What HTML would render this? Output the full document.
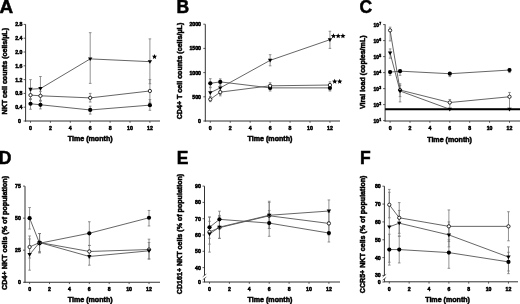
<!DOCTYPE html>
<html><head><meta charset="utf-8"><style>
html,body{margin:0;padding:0;background:#fff;}
svg{display:block;filter:blur(0.3px);}
text{font-family:"Liberation Sans", sans-serif;font-weight:bold;fill:#000;stroke:#000;stroke-width:0.5px;}
</style></head><body>
<svg width="520" height="304" viewBox="0 0 520 304">
<rect width="520" height="304" fill="#fff"/>
<line x1="25.6" y1="24.3" x2="25.6" y2="121.5" stroke="#333" stroke-width="1"/>
<line x1="25.1" y1="121" x2="160" y2="121" stroke="#333" stroke-width="1"/>
<line x1="23.6" y1="121" x2="25.6" y2="121" stroke="#333" stroke-width="0.8"/>
<text x="21" y="123" font-size="5.2" text-anchor="end" >0</text>
<line x1="23.6" y1="107.2" x2="25.6" y2="107.2" stroke="#333" stroke-width="0.8"/>
<text x="22.4" y="109.2" font-size="5.2" text-anchor="end" >0.4</text>
<line x1="23.6" y1="93.4" x2="25.6" y2="93.4" stroke="#333" stroke-width="0.8"/>
<text x="22.4" y="95.4" font-size="5.2" text-anchor="end" >0.8</text>
<line x1="23.6" y1="79.6" x2="25.6" y2="79.6" stroke="#333" stroke-width="0.8"/>
<text x="22.4" y="81.6" font-size="5.2" text-anchor="end" >1.2</text>
<line x1="23.6" y1="65.8" x2="25.6" y2="65.8" stroke="#333" stroke-width="0.8"/>
<text x="22.4" y="67.8" font-size="5.2" text-anchor="end" >1.6</text>
<line x1="23.6" y1="52" x2="25.6" y2="52" stroke="#333" stroke-width="0.8"/>
<text x="22.4" y="54" font-size="5.2" text-anchor="end" >2.0</text>
<line x1="23.6" y1="38.2" x2="25.6" y2="38.2" stroke="#333" stroke-width="0.8"/>
<text x="22.4" y="40.2" font-size="5.2" text-anchor="end" >2.4</text>
<line x1="23.6" y1="24.4" x2="25.6" y2="24.4" stroke="#333" stroke-width="0.8"/>
<text x="22.4" y="26.4" font-size="5.2" text-anchor="end" >2.8</text>
<line x1="30.5" y1="121" x2="30.5" y2="122.8" stroke="#333" stroke-width="0.8"/>
<text x="30.5" y="130.2" font-size="5.2" text-anchor="middle" >0</text>
<line x1="50.4" y1="121" x2="50.4" y2="122.8" stroke="#333" stroke-width="0.8"/>
<text x="50.4" y="130.2" font-size="5.2" text-anchor="middle" >2</text>
<line x1="70.3" y1="121" x2="70.3" y2="122.8" stroke="#333" stroke-width="0.8"/>
<text x="70.3" y="130.2" font-size="5.2" text-anchor="middle" >4</text>
<line x1="90.2" y1="121" x2="90.2" y2="122.8" stroke="#333" stroke-width="0.8"/>
<text x="90.2" y="130.2" font-size="5.2" text-anchor="middle" >6</text>
<line x1="110.1" y1="121" x2="110.1" y2="122.8" stroke="#333" stroke-width="0.8"/>
<text x="110.1" y="130.2" font-size="5.2" text-anchor="middle" >8</text>
<line x1="130" y1="121" x2="130" y2="122.8" stroke="#333" stroke-width="0.8"/>
<text x="130" y="130.2" font-size="5.2" text-anchor="middle" >10</text>
<line x1="149.9" y1="121" x2="149.9" y2="122.8" stroke="#333" stroke-width="0.8"/>
<text x="149.9" y="130.2" font-size="5.2" text-anchor="middle" >12</text>
<text x="90.2" y="141.1" font-size="7.1" text-anchor="middle" >Time (month)</text>
<text transform="translate(7.2,71.2) rotate(-90)" x="0" y="0" font-size="7.1" text-anchor="middle">NKT cell counts (cells/µL)</text>
<text transform="translate(-0.6,12.6) scale(1.08,1)" x="0" y="0" font-size="17.5" text-anchor="start">A</text>
<line x1="30.5" y1="98.92" x2="30.5" y2="79.6" stroke="#777" stroke-width="0.8"/>
<line x1="29.2" y1="98.92" x2="31.8" y2="98.92" stroke="#777" stroke-width="0.8"/>
<line x1="29.2" y1="79.6" x2="31.8" y2="79.6" stroke="#777" stroke-width="0.8"/>
<line x1="40.45" y1="100.3" x2="40.45" y2="76.5" stroke="#777" stroke-width="0.8"/>
<line x1="39.15" y1="100.3" x2="41.75" y2="100.3" stroke="#777" stroke-width="0.8"/>
<line x1="39.15" y1="76.5" x2="41.75" y2="76.5" stroke="#777" stroke-width="0.8"/>
<line x1="90.2" y1="83.39" x2="90.2" y2="32.68" stroke="#777" stroke-width="0.8"/>
<line x1="88.9" y1="83.39" x2="91.5" y2="83.39" stroke="#777" stroke-width="0.8"/>
<line x1="88.9" y1="32.68" x2="91.5" y2="32.68" stroke="#777" stroke-width="0.8"/>
<line x1="149.9" y1="83.74" x2="149.9" y2="38.89" stroke="#777" stroke-width="0.8"/>
<line x1="148.6" y1="83.74" x2="151.2" y2="83.74" stroke="#777" stroke-width="0.8"/>
<line x1="148.6" y1="38.89" x2="151.2" y2="38.89" stroke="#777" stroke-width="0.8"/>
<line x1="30.5" y1="99.61" x2="30.5" y2="90.64" stroke="#777" stroke-width="0.8"/>
<line x1="29.2" y1="99.61" x2="31.8" y2="99.61" stroke="#777" stroke-width="0.8"/>
<line x1="29.2" y1="90.64" x2="31.8" y2="90.64" stroke="#777" stroke-width="0.8"/>
<line x1="40.45" y1="100.99" x2="40.45" y2="91.33" stroke="#777" stroke-width="0.8"/>
<line x1="39.15" y1="100.99" x2="41.75" y2="100.99" stroke="#777" stroke-width="0.8"/>
<line x1="39.15" y1="91.33" x2="41.75" y2="91.33" stroke="#777" stroke-width="0.8"/>
<line x1="90.2" y1="102.03" x2="90.2" y2="93.4" stroke="#777" stroke-width="0.8"/>
<line x1="88.9" y1="102.03" x2="91.5" y2="102.03" stroke="#777" stroke-width="0.8"/>
<line x1="88.9" y1="93.4" x2="91.5" y2="93.4" stroke="#777" stroke-width="0.8"/>
<line x1="149.9" y1="102.37" x2="149.9" y2="79.6" stroke="#777" stroke-width="0.8"/>
<line x1="148.6" y1="102.37" x2="151.2" y2="102.37" stroke="#777" stroke-width="0.8"/>
<line x1="148.6" y1="79.6" x2="151.2" y2="79.6" stroke="#777" stroke-width="0.8"/>
<line x1="30.5" y1="109.27" x2="30.5" y2="98.92" stroke="#777" stroke-width="0.8"/>
<line x1="29.2" y1="109.27" x2="31.8" y2="109.27" stroke="#777" stroke-width="0.8"/>
<line x1="29.2" y1="98.92" x2="31.8" y2="98.92" stroke="#777" stroke-width="0.8"/>
<line x1="40.45" y1="108.92" x2="40.45" y2="100.99" stroke="#777" stroke-width="0.8"/>
<line x1="39.15" y1="108.92" x2="41.75" y2="108.92" stroke="#777" stroke-width="0.8"/>
<line x1="39.15" y1="100.99" x2="41.75" y2="100.99" stroke="#777" stroke-width="0.8"/>
<line x1="90.2" y1="114.1" x2="90.2" y2="106.17" stroke="#777" stroke-width="0.8"/>
<line x1="88.9" y1="114.1" x2="91.5" y2="114.1" stroke="#777" stroke-width="0.8"/>
<line x1="88.9" y1="106.17" x2="91.5" y2="106.17" stroke="#777" stroke-width="0.8"/>
<line x1="149.9" y1="110.31" x2="149.9" y2="99.61" stroke="#777" stroke-width="0.8"/>
<line x1="148.6" y1="110.31" x2="151.2" y2="110.31" stroke="#777" stroke-width="0.8"/>
<line x1="148.6" y1="99.61" x2="151.2" y2="99.61" stroke="#777" stroke-width="0.8"/>
<path d="M30.5,89.26 L40.45,88.57 L90.2,58.9 L149.9,61.66" fill="none" stroke="#555" stroke-width="0.9"/>
<path d="M30.5,95.12 L40.45,95.81 L90.2,97.88 L149.9,90.98" fill="none" stroke="#555" stroke-width="0.9"/>
<path d="M30.5,103.75 L40.45,104.78 L90.2,109.96 L149.9,105.13" fill="none" stroke="#555" stroke-width="0.9"/>
<path d="M28.3,87.76H32.7L30.5,91.46Z" fill="#000"/>
<path d="M38.25,87.07H42.65L40.45,90.77Z" fill="#000"/>
<path d="M88,57.4H92.4L90.2,61.1Z" fill="#000"/>
<path d="M147.7,60.16H152.1L149.9,63.86Z" fill="#000"/>
<circle cx="30.5" cy="95.12" r="1.65" fill="#fff" stroke="#000" stroke-width="0.8"/>
<circle cx="40.45" cy="95.81" r="1.65" fill="#fff" stroke="#000" stroke-width="0.8"/>
<circle cx="90.2" cy="97.88" r="1.65" fill="#fff" stroke="#000" stroke-width="0.8"/>
<circle cx="149.9" cy="90.98" r="1.65" fill="#fff" stroke="#000" stroke-width="0.8"/>
<circle cx="30.5" cy="103.75" r="2.1" fill="#000"/>
<circle cx="40.45" cy="104.78" r="2.1" fill="#000"/>
<circle cx="90.2" cy="109.96" r="2.1" fill="#000"/>
<circle cx="149.9" cy="105.13" r="2.1" fill="#000"/>
<polygon points="154.5,53.95 155.23,55.69 157.12,55.85 155.69,57.09 156.12,58.92 154.5,57.95 152.88,58.92 153.31,57.09 151.88,55.85 153.77,55.69" fill="#000"/>
<line x1="205.3" y1="24.3" x2="205.3" y2="121.5" stroke="#333" stroke-width="1"/>
<line x1="204.8" y1="121" x2="340" y2="121" stroke="#333" stroke-width="1"/>
<line x1="203.3" y1="121" x2="205.3" y2="121" stroke="#333" stroke-width="0.8"/>
<text x="201" y="123" font-size="5.2" text-anchor="end" >0</text>
<line x1="203.3" y1="96.8" x2="205.3" y2="96.8" stroke="#333" stroke-width="0.8"/>
<text x="201" y="98.8" font-size="5.2" text-anchor="end" >500</text>
<line x1="203.3" y1="72.6" x2="205.3" y2="72.6" stroke="#333" stroke-width="0.8"/>
<text x="201" y="74.6" font-size="5.2" text-anchor="end" >1000</text>
<line x1="203.3" y1="48.4" x2="205.3" y2="48.4" stroke="#333" stroke-width="0.8"/>
<text x="201" y="50.4" font-size="5.2" text-anchor="end" >1500</text>
<line x1="203.3" y1="24.2" x2="205.3" y2="24.2" stroke="#333" stroke-width="0.8"/>
<text x="201" y="26.2" font-size="5.2" text-anchor="end" >2000</text>
<line x1="210.3" y1="121" x2="210.3" y2="122.8" stroke="#333" stroke-width="0.8"/>
<text x="210.3" y="130.2" font-size="5.2" text-anchor="middle" >0</text>
<line x1="230.24" y1="121" x2="230.24" y2="122.8" stroke="#333" stroke-width="0.8"/>
<text x="230.24" y="130.2" font-size="5.2" text-anchor="middle" >2</text>
<line x1="250.18" y1="121" x2="250.18" y2="122.8" stroke="#333" stroke-width="0.8"/>
<text x="250.18" y="130.2" font-size="5.2" text-anchor="middle" >4</text>
<line x1="270.12" y1="121" x2="270.12" y2="122.8" stroke="#333" stroke-width="0.8"/>
<text x="270.12" y="130.2" font-size="5.2" text-anchor="middle" >6</text>
<line x1="290.06" y1="121" x2="290.06" y2="122.8" stroke="#333" stroke-width="0.8"/>
<text x="290.06" y="130.2" font-size="5.2" text-anchor="middle" >8</text>
<line x1="310" y1="121" x2="310" y2="122.8" stroke="#333" stroke-width="0.8"/>
<text x="310" y="130.2" font-size="5.2" text-anchor="middle" >10</text>
<line x1="329.94" y1="121" x2="329.94" y2="122.8" stroke="#333" stroke-width="0.8"/>
<text x="329.94" y="130.2" font-size="5.2" text-anchor="middle" >12</text>
<text x="270" y="141.1" font-size="7.1" text-anchor="middle" >Time (month)</text>
<text transform="translate(182.2,71) rotate(-90)" x="0" y="0" font-size="7.1" text-anchor="middle">CD4+ T cell counts (cells/µL)</text>
<text transform="translate(176.6,12.6) scale(1,1)" x="0" y="0" font-size="17.5" text-anchor="start">B</text>
<line x1="210.3" y1="87.12" x2="210.3" y2="78.7" stroke="#777" stroke-width="0.8"/>
<line x1="209" y1="87.12" x2="211.6" y2="87.12" stroke="#777" stroke-width="0.8"/>
<line x1="209" y1="78.7" x2="211.6" y2="78.7" stroke="#777" stroke-width="0.8"/>
<line x1="220.27" y1="85.18" x2="220.27" y2="78.89" stroke="#777" stroke-width="0.8"/>
<line x1="218.97" y1="85.18" x2="221.57" y2="85.18" stroke="#777" stroke-width="0.8"/>
<line x1="218.97" y1="78.89" x2="221.57" y2="78.89" stroke="#777" stroke-width="0.8"/>
<line x1="270.12" y1="90.99" x2="270.12" y2="84.7" stroke="#777" stroke-width="0.8"/>
<line x1="268.82" y1="90.99" x2="271.42" y2="90.99" stroke="#777" stroke-width="0.8"/>
<line x1="268.82" y1="84.7" x2="271.42" y2="84.7" stroke="#777" stroke-width="0.8"/>
<line x1="329.94" y1="90.99" x2="329.94" y2="84.22" stroke="#777" stroke-width="0.8"/>
<line x1="328.64" y1="90.99" x2="331.24" y2="90.99" stroke="#777" stroke-width="0.8"/>
<line x1="328.64" y1="84.22" x2="331.24" y2="84.22" stroke="#777" stroke-width="0.8"/>
<line x1="210.3" y1="96.8" x2="210.3" y2="87.7" stroke="#777" stroke-width="0.8"/>
<line x1="209" y1="96.8" x2="211.6" y2="96.8" stroke="#777" stroke-width="0.8"/>
<line x1="209" y1="87.7" x2="211.6" y2="87.7" stroke="#777" stroke-width="0.8"/>
<line x1="220.27" y1="94.48" x2="220.27" y2="82.28" stroke="#777" stroke-width="0.8"/>
<line x1="218.97" y1="94.48" x2="221.57" y2="94.48" stroke="#777" stroke-width="0.8"/>
<line x1="218.97" y1="82.28" x2="221.57" y2="82.28" stroke="#777" stroke-width="0.8"/>
<line x1="270.12" y1="65.82" x2="270.12" y2="54.69" stroke="#777" stroke-width="0.8"/>
<line x1="268.82" y1="65.82" x2="271.42" y2="65.82" stroke="#777" stroke-width="0.8"/>
<line x1="268.82" y1="54.69" x2="271.42" y2="54.69" stroke="#777" stroke-width="0.8"/>
<line x1="329.94" y1="48.4" x2="329.94" y2="31.22" stroke="#777" stroke-width="0.8"/>
<line x1="328.64" y1="48.4" x2="331.24" y2="48.4" stroke="#777" stroke-width="0.8"/>
<line x1="328.64" y1="31.22" x2="331.24" y2="31.22" stroke="#777" stroke-width="0.8"/>
<line x1="210.3" y1="101.64" x2="210.3" y2="96.8" stroke="#777" stroke-width="0.8"/>
<line x1="209" y1="101.64" x2="211.6" y2="101.64" stroke="#777" stroke-width="0.8"/>
<line x1="209" y1="96.8" x2="211.6" y2="96.8" stroke="#777" stroke-width="0.8"/>
<line x1="220.27" y1="95.83" x2="220.27" y2="88.09" stroke="#777" stroke-width="0.8"/>
<line x1="218.97" y1="95.83" x2="221.57" y2="95.83" stroke="#777" stroke-width="0.8"/>
<line x1="218.97" y1="88.09" x2="221.57" y2="88.09" stroke="#777" stroke-width="0.8"/>
<line x1="270.12" y1="89.54" x2="270.12" y2="82.76" stroke="#777" stroke-width="0.8"/>
<line x1="268.82" y1="89.54" x2="271.42" y2="89.54" stroke="#777" stroke-width="0.8"/>
<line x1="268.82" y1="82.76" x2="271.42" y2="82.76" stroke="#777" stroke-width="0.8"/>
<line x1="329.94" y1="90.02" x2="329.94" y2="81.8" stroke="#777" stroke-width="0.8"/>
<line x1="328.64" y1="90.02" x2="331.24" y2="90.02" stroke="#777" stroke-width="0.8"/>
<line x1="328.64" y1="81.8" x2="331.24" y2="81.8" stroke="#777" stroke-width="0.8"/>
<path d="M210.3,83.3 L220.27,81.89 L270.12,87.89 L329.94,87.89" fill="none" stroke="#555" stroke-width="0.9"/>
<path d="M210.3,92.69 L220.27,87.89 L270.12,60.35 L329.94,39.69" fill="none" stroke="#555" stroke-width="0.9"/>
<path d="M210.3,99.32 L220.27,92.11 L270.12,85.81 L329.94,85.04" fill="none" stroke="#555" stroke-width="0.9"/>
<circle cx="210.3" cy="83.3" r="2.1" fill="#000"/>
<circle cx="220.27" cy="81.89" r="2.1" fill="#000"/>
<circle cx="270.12" cy="87.89" r="2.1" fill="#000"/>
<circle cx="329.94" cy="87.89" r="2.1" fill="#000"/>
<path d="M208.1,91.19H212.5L210.3,94.89Z" fill="#000"/>
<path d="M218.07,86.39H222.47L220.27,90.09Z" fill="#000"/>
<path d="M267.92,58.85H272.32L270.12,62.55Z" fill="#000"/>
<path d="M327.74,38.19H332.14L329.94,41.89Z" fill="#000"/>
<circle cx="210.3" cy="99.32" r="1.65" fill="#fff" stroke="#000" stroke-width="0.8"/>
<circle cx="220.27" cy="92.11" r="1.65" fill="#fff" stroke="#000" stroke-width="0.8"/>
<circle cx="270.12" cy="85.81" r="1.65" fill="#fff" stroke="#000" stroke-width="0.8"/>
<circle cx="329.94" cy="85.04" r="1.65" fill="#fff" stroke="#000" stroke-width="0.8"/>
<polygon points="333.5,33.25 334.23,34.99 336.12,35.15 334.69,36.39 335.12,38.22 333.5,37.25 331.88,38.22 332.31,36.39 330.88,35.15 332.77,34.99" fill="#000"/>
<polygon points="338.2,33.25 338.93,34.99 340.82,35.15 339.39,36.39 339.82,38.22 338.2,37.25 336.58,38.22 337.01,36.39 335.58,35.15 337.47,34.99" fill="#000"/>
<polygon points="342.9,33.25 343.63,34.99 345.52,35.15 344.09,36.39 344.52,38.22 342.9,37.25 341.28,38.22 341.71,36.39 340.28,35.15 342.17,34.99" fill="#000"/>
<polygon points="334.7,78.75 335.43,80.49 337.32,80.65 335.89,81.89 336.32,83.72 334.7,82.75 333.08,83.72 333.51,81.89 332.08,80.65 333.97,80.49" fill="#000"/>
<polygon points="339.7,78.75 340.43,80.49 342.32,80.65 340.89,81.89 341.32,83.72 339.7,82.75 338.08,83.72 338.51,81.89 337.08,80.65 338.97,80.49" fill="#000"/>
<line x1="385.1" y1="24.3" x2="385.1" y2="121.5" stroke="#333" stroke-width="1"/>
<line x1="384.6" y1="121" x2="520" y2="121" stroke="#333" stroke-width="1"/>
<line x1="390.1" y1="121" x2="390.1" y2="122.8" stroke="#333" stroke-width="0.8"/>
<text x="390.1" y="130.2" font-size="5.2" text-anchor="middle" >0</text>
<line x1="410" y1="121" x2="410" y2="122.8" stroke="#333" stroke-width="0.8"/>
<text x="410" y="130.2" font-size="5.2" text-anchor="middle" >2</text>
<line x1="429.9" y1="121" x2="429.9" y2="122.8" stroke="#333" stroke-width="0.8"/>
<text x="429.9" y="130.2" font-size="5.2" text-anchor="middle" >4</text>
<line x1="449.8" y1="121" x2="449.8" y2="122.8" stroke="#333" stroke-width="0.8"/>
<text x="449.8" y="130.2" font-size="5.2" text-anchor="middle" >6</text>
<line x1="469.7" y1="121" x2="469.7" y2="122.8" stroke="#333" stroke-width="0.8"/>
<text x="469.7" y="130.2" font-size="5.2" text-anchor="middle" >8</text>
<line x1="489.6" y1="121" x2="489.6" y2="122.8" stroke="#333" stroke-width="0.8"/>
<text x="489.6" y="130.2" font-size="5.2" text-anchor="middle" >10</text>
<line x1="509.5" y1="121" x2="509.5" y2="122.8" stroke="#333" stroke-width="0.8"/>
<text x="509.5" y="130.2" font-size="5.2" text-anchor="middle" >12</text>
<text x="449.6" y="141.6" font-size="7.1" text-anchor="middle" >Time (month)</text>
<text transform="translate(365.4,72.2) rotate(-90)" x="0" y="0" font-size="7.1" text-anchor="middle">Viral load (copies/mL)</text>
<text transform="translate(359.6,12.6) scale(1,1)" x="0" y="0" font-size="17.5" text-anchor="start">C</text>
<line x1="390.1" y1="75.32" x2="390.1" y2="70.68" stroke="#777" stroke-width="0.8"/>
<line x1="388.8" y1="75.32" x2="391.4" y2="75.32" stroke="#777" stroke-width="0.8"/>
<line x1="388.8" y1="70.68" x2="391.4" y2="70.68" stroke="#777" stroke-width="0.8"/>
<line x1="400.05" y1="75.32" x2="400.05" y2="70.04" stroke="#777" stroke-width="0.8"/>
<line x1="398.75" y1="75.32" x2="401.35" y2="75.32" stroke="#777" stroke-width="0.8"/>
<line x1="398.75" y1="70.04" x2="401.35" y2="70.04" stroke="#777" stroke-width="0.8"/>
<line x1="449.8" y1="76.6" x2="449.8" y2="72.6" stroke="#777" stroke-width="0.8"/>
<line x1="448.5" y1="76.6" x2="451.1" y2="76.6" stroke="#777" stroke-width="0.8"/>
<line x1="448.5" y1="72.6" x2="451.1" y2="72.6" stroke="#777" stroke-width="0.8"/>
<line x1="509.5" y1="72.6" x2="509.5" y2="68.44" stroke="#777" stroke-width="0.8"/>
<line x1="508.2" y1="72.6" x2="510.8" y2="72.6" stroke="#777" stroke-width="0.8"/>
<line x1="508.2" y1="68.44" x2="510.8" y2="68.44" stroke="#777" stroke-width="0.8"/>
<line x1="390.1" y1="40.92" x2="390.1" y2="27.16" stroke="#777" stroke-width="0.8"/>
<line x1="388.8" y1="40.92" x2="391.4" y2="40.92" stroke="#777" stroke-width="0.8"/>
<line x1="388.8" y1="27.16" x2="391.4" y2="27.16" stroke="#777" stroke-width="0.8"/>
<line x1="400.05" y1="96.6" x2="400.05" y2="85.4" stroke="#777" stroke-width="0.8"/>
<line x1="398.75" y1="96.6" x2="401.35" y2="96.6" stroke="#777" stroke-width="0.8"/>
<line x1="398.75" y1="85.4" x2="401.35" y2="85.4" stroke="#777" stroke-width="0.8"/>
<line x1="449.8" y1="109.24" x2="449.8" y2="99.48" stroke="#777" stroke-width="0.8"/>
<line x1="448.5" y1="109.24" x2="451.1" y2="109.24" stroke="#777" stroke-width="0.8"/>
<line x1="448.5" y1="99.48" x2="451.1" y2="99.48" stroke="#777" stroke-width="0.8"/>
<line x1="509.5" y1="109.24" x2="509.5" y2="92.44" stroke="#777" stroke-width="0.8"/>
<line x1="508.2" y1="109.24" x2="510.8" y2="109.24" stroke="#777" stroke-width="0.8"/>
<line x1="508.2" y1="92.44" x2="510.8" y2="92.44" stroke="#777" stroke-width="0.8"/>
<line x1="390.1" y1="58.2" x2="390.1" y2="48.92" stroke="#777" stroke-width="0.8"/>
<line x1="388.8" y1="58.2" x2="391.4" y2="58.2" stroke="#777" stroke-width="0.8"/>
<line x1="388.8" y1="48.92" x2="391.4" y2="48.92" stroke="#777" stroke-width="0.8"/>
<line x1="400.05" y1="101.88" x2="400.05" y2="83.8" stroke="#777" stroke-width="0.8"/>
<line x1="398.75" y1="101.88" x2="401.35" y2="101.88" stroke="#777" stroke-width="0.8"/>
<line x1="398.75" y1="83.8" x2="401.35" y2="83.8" stroke="#777" stroke-width="0.8"/>
<path d="M390.1,72.12 L400.05,71.16 L449.8,73.72 L509.5,70.04" fill="none" stroke="#555" stroke-width="0.9"/>
<path d="M390.1,30.36 L400.05,90.04 L449.8,102.52 L509.5,96.76" fill="none" stroke="#555" stroke-width="0.9"/>
<path d="M390.1,53.08 L400.05,91 L449.8,109.24 L509.5,109.24" fill="none" stroke="#555" stroke-width="0.9"/>
<circle cx="390.1" cy="72.12" r="2.1" fill="#000"/>
<circle cx="400.05" cy="71.16" r="2.1" fill="#000"/>
<circle cx="449.8" cy="73.72" r="2.1" fill="#000"/>
<circle cx="509.5" cy="70.04" r="2.1" fill="#000"/>
<circle cx="390.1" cy="30.36" r="1.65" fill="#fff" stroke="#000" stroke-width="0.8"/>
<circle cx="400.05" cy="90.04" r="1.65" fill="#fff" stroke="#000" stroke-width="0.8"/>
<circle cx="449.8" cy="102.52" r="1.65" fill="#fff" stroke="#000" stroke-width="0.8"/>
<circle cx="509.5" cy="96.76" r="1.65" fill="#fff" stroke="#000" stroke-width="0.8"/>
<path d="M387.9,51.58H392.3L390.1,55.28Z" fill="#000"/>
<path d="M397.85,89.5H402.25L400.05,93.2Z" fill="#000"/>
<path d="M447.6,107.74H452L449.8,111.44Z" fill="#000"/>
<path d="M507.3,107.74H511.7L509.5,111.44Z" fill="#000"/>
<line x1="385.1" y1="109.25" x2="520" y2="109.25" stroke="#000" stroke-width="1.8"/>
<line x1="25" y1="186.2" x2="25" y2="282.75" stroke="#333" stroke-width="1"/>
<line x1="24.5" y1="282.25" x2="160" y2="282.25" stroke="#333" stroke-width="1"/>
<line x1="23" y1="282.25" x2="25" y2="282.25" stroke="#333" stroke-width="0.8"/>
<text x="20.8" y="284.25" font-size="5.2" text-anchor="end" >0</text>
<line x1="23" y1="250.2" x2="25" y2="250.2" stroke="#333" stroke-width="0.8"/>
<text x="20.8" y="252.2" font-size="5.2" text-anchor="end" >25</text>
<line x1="23" y1="218.15" x2="25" y2="218.15" stroke="#333" stroke-width="0.8"/>
<text x="20.8" y="220.15" font-size="5.2" text-anchor="end" >50</text>
<line x1="23" y1="186.1" x2="25" y2="186.1" stroke="#333" stroke-width="0.8"/>
<text x="20.8" y="188.1" font-size="5.2" text-anchor="end" >75</text>
<line x1="29.6" y1="282.25" x2="29.6" y2="284.05" stroke="#333" stroke-width="0.8"/>
<text x="29.6" y="291.45" font-size="5.2" text-anchor="middle" >0</text>
<line x1="49.5" y1="282.25" x2="49.5" y2="284.05" stroke="#333" stroke-width="0.8"/>
<text x="49.5" y="291.45" font-size="5.2" text-anchor="middle" >2</text>
<line x1="69.4" y1="282.25" x2="69.4" y2="284.05" stroke="#333" stroke-width="0.8"/>
<text x="69.4" y="291.45" font-size="5.2" text-anchor="middle" >4</text>
<line x1="89.3" y1="282.25" x2="89.3" y2="284.05" stroke="#333" stroke-width="0.8"/>
<text x="89.3" y="291.45" font-size="5.2" text-anchor="middle" >6</text>
<line x1="109.2" y1="282.25" x2="109.2" y2="284.05" stroke="#333" stroke-width="0.8"/>
<text x="109.2" y="291.45" font-size="5.2" text-anchor="middle" >8</text>
<line x1="129.1" y1="282.25" x2="129.1" y2="284.05" stroke="#333" stroke-width="0.8"/>
<text x="129.1" y="291.45" font-size="5.2" text-anchor="middle" >10</text>
<line x1="149" y1="282.25" x2="149" y2="284.05" stroke="#333" stroke-width="0.8"/>
<text x="149" y="291.45" font-size="5.2" text-anchor="middle" >12</text>
<text x="90.2" y="302.35" font-size="7.1" text-anchor="middle" >Time (month)</text>
<text transform="translate(7.2,232.9) rotate(-90)" x="0" y="0" font-size="7.2" text-anchor="middle">CD4+ NKT cells (% of population)</text>
<text transform="translate(-1.2,163.6) scale(1,1)" x="0" y="0" font-size="17.5" text-anchor="start">D</text>
<line x1="29.6" y1="229.05" x2="29.6" y2="207.51" stroke="#777" stroke-width="0.8"/>
<line x1="28.3" y1="229.05" x2="30.9" y2="229.05" stroke="#777" stroke-width="0.8"/>
<line x1="28.3" y1="207.51" x2="30.9" y2="207.51" stroke="#777" stroke-width="0.8"/>
<line x1="39.55" y1="252.76" x2="39.55" y2="233.53" stroke="#777" stroke-width="0.8"/>
<line x1="38.25" y1="252.76" x2="40.85" y2="252.76" stroke="#777" stroke-width="0.8"/>
<line x1="38.25" y1="233.53" x2="40.85" y2="233.53" stroke="#777" stroke-width="0.8"/>
<line x1="89.3" y1="245.46" x2="89.3" y2="221.74" stroke="#777" stroke-width="0.8"/>
<line x1="88" y1="245.46" x2="90.6" y2="245.46" stroke="#777" stroke-width="0.8"/>
<line x1="88" y1="221.74" x2="90.6" y2="221.74" stroke="#777" stroke-width="0.8"/>
<line x1="149" y1="225.97" x2="149" y2="210.46" stroke="#777" stroke-width="0.8"/>
<line x1="147.7" y1="225.97" x2="150.3" y2="225.97" stroke="#777" stroke-width="0.8"/>
<line x1="147.7" y1="210.46" x2="150.3" y2="210.46" stroke="#777" stroke-width="0.8"/>
<line x1="29.6" y1="258.02" x2="29.6" y2="235.97" stroke="#777" stroke-width="0.8"/>
<line x1="28.3" y1="258.02" x2="30.9" y2="258.02" stroke="#777" stroke-width="0.8"/>
<line x1="28.3" y1="235.97" x2="30.9" y2="235.97" stroke="#777" stroke-width="0.8"/>
<line x1="39.55" y1="251.48" x2="39.55" y2="233.53" stroke="#777" stroke-width="0.8"/>
<line x1="38.25" y1="251.48" x2="40.85" y2="251.48" stroke="#777" stroke-width="0.8"/>
<line x1="38.25" y1="233.53" x2="40.85" y2="233.53" stroke="#777" stroke-width="0.8"/>
<line x1="89.3" y1="257.89" x2="89.3" y2="245.46" stroke="#777" stroke-width="0.8"/>
<line x1="88" y1="257.89" x2="90.6" y2="257.89" stroke="#777" stroke-width="0.8"/>
<line x1="88" y1="245.46" x2="90.6" y2="245.46" stroke="#777" stroke-width="0.8"/>
<line x1="149" y1="258.79" x2="149" y2="239.17" stroke="#777" stroke-width="0.8"/>
<line x1="147.7" y1="258.79" x2="150.3" y2="258.79" stroke="#777" stroke-width="0.8"/>
<line x1="147.7" y1="239.17" x2="150.3" y2="239.17" stroke="#777" stroke-width="0.8"/>
<line x1="29.6" y1="270.2" x2="29.6" y2="238.92" stroke="#777" stroke-width="0.8"/>
<line x1="28.3" y1="270.2" x2="30.9" y2="270.2" stroke="#777" stroke-width="0.8"/>
<line x1="28.3" y1="238.92" x2="30.9" y2="238.92" stroke="#777" stroke-width="0.8"/>
<line x1="39.55" y1="252.76" x2="39.55" y2="233.53" stroke="#777" stroke-width="0.8"/>
<line x1="38.25" y1="252.76" x2="40.85" y2="252.76" stroke="#777" stroke-width="0.8"/>
<line x1="38.25" y1="233.53" x2="40.85" y2="233.53" stroke="#777" stroke-width="0.8"/>
<line x1="89.3" y1="265.2" x2="89.3" y2="250.46" stroke="#777" stroke-width="0.8"/>
<line x1="88" y1="265.2" x2="90.6" y2="265.2" stroke="#777" stroke-width="0.8"/>
<line x1="88" y1="250.46" x2="90.6" y2="250.46" stroke="#777" stroke-width="0.8"/>
<line x1="149" y1="259.17" x2="149" y2="242.51" stroke="#777" stroke-width="0.8"/>
<line x1="147.7" y1="259.17" x2="150.3" y2="259.17" stroke="#777" stroke-width="0.8"/>
<line x1="147.7" y1="242.51" x2="150.3" y2="242.51" stroke="#777" stroke-width="0.8"/>
<path d="M29.6,218.15 L39.55,243.28 L89.3,233.28 L149,217.77" fill="none" stroke="#555" stroke-width="0.9"/>
<path d="M29.6,247 L39.55,242.51 L89.3,251.48 L149,249.56" fill="none" stroke="#555" stroke-width="0.9"/>
<path d="M29.6,254.56 L39.55,242.51 L89.3,256.48 L149,250.84" fill="none" stroke="#555" stroke-width="0.9"/>
<circle cx="29.6" cy="218.15" r="2.1" fill="#000"/>
<circle cx="39.55" cy="243.28" r="2.1" fill="#000"/>
<circle cx="89.3" cy="233.28" r="2.1" fill="#000"/>
<circle cx="149" cy="217.77" r="2.1" fill="#000"/>
<circle cx="29.6" cy="247" r="1.65" fill="#fff" stroke="#000" stroke-width="0.8"/>
<circle cx="39.55" cy="242.51" r="1.65" fill="#fff" stroke="#000" stroke-width="0.8"/>
<circle cx="89.3" cy="251.48" r="1.65" fill="#fff" stroke="#000" stroke-width="0.8"/>
<circle cx="149" cy="249.56" r="1.65" fill="#fff" stroke="#000" stroke-width="0.8"/>
<path d="M27.4,253.06H31.8L29.6,256.76Z" fill="#000"/>
<path d="M37.35,241.01H41.75L39.55,244.71Z" fill="#000"/>
<path d="M87.1,254.98H91.5L89.3,258.68Z" fill="#000"/>
<path d="M146.8,249.34H151.2L149,253.04Z" fill="#000"/>
<line x1="204.5" y1="186.2" x2="204.5" y2="275.4" stroke="#333" stroke-width="1"/>
<line x1="204.5" y1="278.4" x2="204.5" y2="282" stroke="#333" stroke-width="1"/>
<line x1="202.7" y1="276.8" x2="206.3" y2="274" stroke="#333" stroke-width="0.7"/>
<line x1="202.7" y1="279.8" x2="206.3" y2="277" stroke="#333" stroke-width="0.7"/>
<line x1="204" y1="282" x2="340" y2="282" stroke="#333" stroke-width="1"/>
<line x1="202.5" y1="267.6" x2="204.5" y2="267.6" stroke="#333" stroke-width="0.8"/>
<text x="200.8" y="269.6" font-size="5.2" text-anchor="end" >40</text>
<line x1="202.5" y1="251.3" x2="204.5" y2="251.3" stroke="#333" stroke-width="0.8"/>
<text x="200.8" y="253.3" font-size="5.2" text-anchor="end" >50</text>
<line x1="202.5" y1="235" x2="204.5" y2="235" stroke="#333" stroke-width="0.8"/>
<text x="200.8" y="237" font-size="5.2" text-anchor="end" >60</text>
<line x1="202.5" y1="218.7" x2="204.5" y2="218.7" stroke="#333" stroke-width="0.8"/>
<text x="200.8" y="220.7" font-size="5.2" text-anchor="end" >70</text>
<line x1="202.5" y1="202.4" x2="204.5" y2="202.4" stroke="#333" stroke-width="0.8"/>
<text x="200.8" y="204.4" font-size="5.2" text-anchor="end" >80</text>
<line x1="202.5" y1="186.1" x2="204.5" y2="186.1" stroke="#333" stroke-width="0.8"/>
<text x="200.8" y="188.1" font-size="5.2" text-anchor="end" >90</text>
<line x1="202.5" y1="282" x2="204.5" y2="282" stroke="#333" stroke-width="0.8"/>
<text x="200.8" y="284" font-size="5.2" text-anchor="end" >0</text>
<line x1="209.5" y1="282" x2="209.5" y2="283.8" stroke="#333" stroke-width="0.8"/>
<text x="209.5" y="291.2" font-size="5.2" text-anchor="middle" >0</text>
<line x1="229.4" y1="282" x2="229.4" y2="283.8" stroke="#333" stroke-width="0.8"/>
<text x="229.4" y="291.2" font-size="5.2" text-anchor="middle" >2</text>
<line x1="249.3" y1="282" x2="249.3" y2="283.8" stroke="#333" stroke-width="0.8"/>
<text x="249.3" y="291.2" font-size="5.2" text-anchor="middle" >4</text>
<line x1="269.2" y1="282" x2="269.2" y2="283.8" stroke="#333" stroke-width="0.8"/>
<text x="269.2" y="291.2" font-size="5.2" text-anchor="middle" >6</text>
<line x1="289.1" y1="282" x2="289.1" y2="283.8" stroke="#333" stroke-width="0.8"/>
<text x="289.1" y="291.2" font-size="5.2" text-anchor="middle" >8</text>
<line x1="309" y1="282" x2="309" y2="283.8" stroke="#333" stroke-width="0.8"/>
<text x="309" y="291.2" font-size="5.2" text-anchor="middle" >10</text>
<line x1="328.9" y1="282" x2="328.9" y2="283.8" stroke="#333" stroke-width="0.8"/>
<text x="328.9" y="291.2" font-size="5.2" text-anchor="middle" >12</text>
<text x="270" y="302.1" font-size="7.1" text-anchor="middle" >Time (month)</text>
<text transform="translate(182.2,234) rotate(-90)" x="0" y="0" font-size="7.1" text-anchor="middle">CD161+ NKT cells (% of population)</text>
<text transform="translate(176.8,163.6) scale(1,1)" x="0" y="0" font-size="17.5" text-anchor="start">E</text>
<line x1="209.5" y1="238.26" x2="209.5" y2="217.07" stroke="#777" stroke-width="0.8"/>
<line x1="208.2" y1="238.26" x2="210.8" y2="238.26" stroke="#777" stroke-width="0.8"/>
<line x1="208.2" y1="217.07" x2="210.8" y2="217.07" stroke="#777" stroke-width="0.8"/>
<line x1="219.45" y1="227.66" x2="219.45" y2="211.2" stroke="#777" stroke-width="0.8"/>
<line x1="218.15" y1="227.66" x2="220.75" y2="227.66" stroke="#777" stroke-width="0.8"/>
<line x1="218.15" y1="211.2" x2="220.75" y2="211.2" stroke="#777" stroke-width="0.8"/>
<line x1="269.2" y1="236.3" x2="269.2" y2="210.55" stroke="#777" stroke-width="0.8"/>
<line x1="267.9" y1="236.3" x2="270.5" y2="236.3" stroke="#777" stroke-width="0.8"/>
<line x1="267.9" y1="210.55" x2="270.5" y2="210.55" stroke="#777" stroke-width="0.8"/>
<line x1="328.9" y1="242.01" x2="328.9" y2="224.41" stroke="#777" stroke-width="0.8"/>
<line x1="327.6" y1="242.01" x2="330.2" y2="242.01" stroke="#777" stroke-width="0.8"/>
<line x1="327.6" y1="224.41" x2="330.2" y2="224.41" stroke="#777" stroke-width="0.8"/>
<line x1="209.5" y1="244.13" x2="209.5" y2="221.31" stroke="#777" stroke-width="0.8"/>
<line x1="208.2" y1="244.13" x2="210.8" y2="244.13" stroke="#777" stroke-width="0.8"/>
<line x1="208.2" y1="221.31" x2="210.8" y2="221.31" stroke="#777" stroke-width="0.8"/>
<line x1="219.45" y1="238.26" x2="219.45" y2="215.44" stroke="#777" stroke-width="0.8"/>
<line x1="218.15" y1="238.26" x2="220.75" y2="238.26" stroke="#777" stroke-width="0.8"/>
<line x1="218.15" y1="215.44" x2="220.75" y2="215.44" stroke="#777" stroke-width="0.8"/>
<line x1="269.2" y1="228.48" x2="269.2" y2="201.26" stroke="#777" stroke-width="0.8"/>
<line x1="267.9" y1="228.48" x2="270.5" y2="228.48" stroke="#777" stroke-width="0.8"/>
<line x1="267.9" y1="201.26" x2="270.5" y2="201.26" stroke="#777" stroke-width="0.8"/>
<line x1="328.9" y1="235" x2="328.9" y2="212.18" stroke="#777" stroke-width="0.8"/>
<line x1="327.6" y1="235" x2="330.2" y2="235" stroke="#777" stroke-width="0.8"/>
<line x1="327.6" y1="212.18" x2="330.2" y2="212.18" stroke="#777" stroke-width="0.8"/>
<line x1="209.5" y1="252.12" x2="209.5" y2="217.07" stroke="#777" stroke-width="0.8"/>
<line x1="208.2" y1="252.12" x2="210.8" y2="252.12" stroke="#777" stroke-width="0.8"/>
<line x1="208.2" y1="217.07" x2="210.8" y2="217.07" stroke="#777" stroke-width="0.8"/>
<line x1="219.45" y1="238.42" x2="219.45" y2="216.25" stroke="#777" stroke-width="0.8"/>
<line x1="218.15" y1="238.42" x2="220.75" y2="238.42" stroke="#777" stroke-width="0.8"/>
<line x1="218.15" y1="216.25" x2="220.75" y2="216.25" stroke="#777" stroke-width="0.8"/>
<line x1="269.2" y1="228.48" x2="269.2" y2="202.4" stroke="#777" stroke-width="0.8"/>
<line x1="267.9" y1="228.48" x2="270.5" y2="228.48" stroke="#777" stroke-width="0.8"/>
<line x1="267.9" y1="202.4" x2="270.5" y2="202.4" stroke="#777" stroke-width="0.8"/>
<line x1="328.9" y1="221.96" x2="328.9" y2="199.96" stroke="#777" stroke-width="0.8"/>
<line x1="327.6" y1="221.96" x2="330.2" y2="221.96" stroke="#777" stroke-width="0.8"/>
<line x1="327.6" y1="199.96" x2="330.2" y2="199.96" stroke="#777" stroke-width="0.8"/>
<path d="M209.5,227.34 L219.45,219.35 L269.2,223.1 L328.9,233.04" fill="none" stroke="#555" stroke-width="0.9"/>
<path d="M209.5,231.9 L219.45,227.66 L269.2,215.77 L328.9,223.43" fill="none" stroke="#555" stroke-width="0.9"/>
<path d="M209.5,234.02 L219.45,227.18 L269.2,215.28 L328.9,211.04" fill="none" stroke="#555" stroke-width="0.9"/>
<circle cx="209.5" cy="227.34" r="2.1" fill="#000"/>
<circle cx="219.45" cy="219.35" r="2.1" fill="#000"/>
<circle cx="269.2" cy="223.1" r="2.1" fill="#000"/>
<circle cx="328.9" cy="233.04" r="2.1" fill="#000"/>
<circle cx="209.5" cy="231.9" r="1.65" fill="#fff" stroke="#000" stroke-width="0.8"/>
<circle cx="219.45" cy="227.66" r="1.65" fill="#fff" stroke="#000" stroke-width="0.8"/>
<circle cx="269.2" cy="215.77" r="1.65" fill="#fff" stroke="#000" stroke-width="0.8"/>
<circle cx="328.9" cy="223.43" r="1.65" fill="#fff" stroke="#000" stroke-width="0.8"/>
<path d="M207.3,232.52H211.7L209.5,236.22Z" fill="#000"/>
<path d="M217.25,225.68H221.65L219.45,229.38Z" fill="#000"/>
<path d="M267,213.78H271.4L269.2,217.48Z" fill="#000"/>
<path d="M326.7,209.54H331.1L328.9,213.24Z" fill="#000"/>
<line x1="384.4" y1="186.2" x2="384.4" y2="275.6" stroke="#333" stroke-width="1"/>
<line x1="384.4" y1="278.8" x2="384.4" y2="281.8" stroke="#333" stroke-width="1"/>
<line x1="382.6" y1="277" x2="386.2" y2="274.2" stroke="#333" stroke-width="0.7"/>
<line x1="382.6" y1="280.2" x2="386.2" y2="277.4" stroke="#333" stroke-width="0.7"/>
<line x1="383.9" y1="281.8" x2="518" y2="281.8" stroke="#333" stroke-width="1"/>
<line x1="382.4" y1="275.45" x2="384.4" y2="275.45" stroke="#333" stroke-width="0.8"/>
<text x="380.7" y="277.45" font-size="5.2" text-anchor="end" >30</text>
<line x1="382.4" y1="257.6" x2="384.4" y2="257.6" stroke="#333" stroke-width="0.8"/>
<text x="380.7" y="259.6" font-size="5.2" text-anchor="end" >40</text>
<line x1="382.4" y1="239.75" x2="384.4" y2="239.75" stroke="#333" stroke-width="0.8"/>
<text x="380.7" y="241.75" font-size="5.2" text-anchor="end" >50</text>
<line x1="382.4" y1="221.9" x2="384.4" y2="221.9" stroke="#333" stroke-width="0.8"/>
<text x="380.7" y="223.9" font-size="5.2" text-anchor="end" >60</text>
<line x1="382.4" y1="204.05" x2="384.4" y2="204.05" stroke="#333" stroke-width="0.8"/>
<text x="380.7" y="206.05" font-size="5.2" text-anchor="end" >70</text>
<line x1="382.4" y1="186.2" x2="384.4" y2="186.2" stroke="#333" stroke-width="0.8"/>
<text x="380.7" y="188.2" font-size="5.2" text-anchor="end" >80</text>
<line x1="382.4" y1="282" x2="384.4" y2="282" stroke="#333" stroke-width="0.8"/>
<text x="380.7" y="284" font-size="5.2" text-anchor="end" >0</text>
<line x1="389.3" y1="281.8" x2="389.3" y2="283.6" stroke="#333" stroke-width="0.8"/>
<text x="389.3" y="291" font-size="5.2" text-anchor="middle" >0</text>
<line x1="409.16" y1="281.8" x2="409.16" y2="283.6" stroke="#333" stroke-width="0.8"/>
<text x="409.16" y="291" font-size="5.2" text-anchor="middle" >2</text>
<line x1="429.02" y1="281.8" x2="429.02" y2="283.6" stroke="#333" stroke-width="0.8"/>
<text x="429.02" y="291" font-size="5.2" text-anchor="middle" >4</text>
<line x1="448.88" y1="281.8" x2="448.88" y2="283.6" stroke="#333" stroke-width="0.8"/>
<text x="448.88" y="291" font-size="5.2" text-anchor="middle" >6</text>
<line x1="468.74" y1="281.8" x2="468.74" y2="283.6" stroke="#333" stroke-width="0.8"/>
<text x="468.74" y="291" font-size="5.2" text-anchor="middle" >8</text>
<line x1="488.6" y1="281.8" x2="488.6" y2="283.6" stroke="#333" stroke-width="0.8"/>
<text x="488.6" y="291" font-size="5.2" text-anchor="middle" >10</text>
<line x1="508.46" y1="281.8" x2="508.46" y2="283.6" stroke="#333" stroke-width="0.8"/>
<text x="508.46" y="291" font-size="5.2" text-anchor="middle" >12</text>
<text x="447.6" y="301.9" font-size="7.1" text-anchor="middle" >Time (month)</text>
<text transform="translate(365.2,234.4) rotate(-90)" x="0" y="0" font-size="7.1" text-anchor="middle">CCR5+ NKT cells (% of population)</text>
<text transform="translate(360,163.6) scale(1,1)" x="0" y="0" font-size="17.5" text-anchor="start">F</text>
<line x1="389.3" y1="217.79" x2="389.3" y2="189.41" stroke="#777" stroke-width="0.8"/>
<line x1="388" y1="217.79" x2="390.6" y2="217.79" stroke="#777" stroke-width="0.8"/>
<line x1="388" y1="189.41" x2="390.6" y2="189.41" stroke="#777" stroke-width="0.8"/>
<line x1="399.23" y1="236.18" x2="399.23" y2="202.62" stroke="#777" stroke-width="0.8"/>
<line x1="397.93" y1="236.18" x2="400.53" y2="236.18" stroke="#777" stroke-width="0.8"/>
<line x1="397.93" y1="202.62" x2="400.53" y2="202.62" stroke="#777" stroke-width="0.8"/>
<line x1="448.88" y1="241.53" x2="448.88" y2="209.94" stroke="#777" stroke-width="0.8"/>
<line x1="447.58" y1="241.53" x2="450.18" y2="241.53" stroke="#777" stroke-width="0.8"/>
<line x1="447.58" y1="209.94" x2="450.18" y2="209.94" stroke="#777" stroke-width="0.8"/>
<line x1="508.46" y1="240.82" x2="508.46" y2="211.73" stroke="#777" stroke-width="0.8"/>
<line x1="507.16" y1="240.82" x2="509.76" y2="240.82" stroke="#777" stroke-width="0.8"/>
<line x1="507.16" y1="211.73" x2="509.76" y2="211.73" stroke="#777" stroke-width="0.8"/>
<line x1="389.3" y1="262.24" x2="389.3" y2="192.27" stroke="#777" stroke-width="0.8"/>
<line x1="388" y1="262.24" x2="390.6" y2="262.24" stroke="#777" stroke-width="0.8"/>
<line x1="388" y1="192.27" x2="390.6" y2="192.27" stroke="#777" stroke-width="0.8"/>
<line x1="399.23" y1="233.32" x2="399.23" y2="210.48" stroke="#777" stroke-width="0.8"/>
<line x1="397.93" y1="233.32" x2="400.53" y2="233.32" stroke="#777" stroke-width="0.8"/>
<line x1="397.93" y1="210.48" x2="400.53" y2="210.48" stroke="#777" stroke-width="0.8"/>
<line x1="448.88" y1="246.89" x2="448.88" y2="221.9" stroke="#777" stroke-width="0.8"/>
<line x1="447.58" y1="246.89" x2="450.18" y2="246.89" stroke="#777" stroke-width="0.8"/>
<line x1="447.58" y1="221.9" x2="450.18" y2="221.9" stroke="#777" stroke-width="0.8"/>
<line x1="508.46" y1="270.99" x2="508.46" y2="246.89" stroke="#777" stroke-width="0.8"/>
<line x1="507.16" y1="270.99" x2="509.76" y2="270.99" stroke="#777" stroke-width="0.8"/>
<line x1="507.16" y1="246.89" x2="509.76" y2="246.89" stroke="#777" stroke-width="0.8"/>
<line x1="389.3" y1="265.1" x2="389.3" y2="234.22" stroke="#777" stroke-width="0.8"/>
<line x1="388" y1="265.1" x2="390.6" y2="265.1" stroke="#777" stroke-width="0.8"/>
<line x1="388" y1="234.22" x2="390.6" y2="234.22" stroke="#777" stroke-width="0.8"/>
<line x1="399.23" y1="262.95" x2="399.23" y2="236.18" stroke="#777" stroke-width="0.8"/>
<line x1="397.93" y1="262.95" x2="400.53" y2="262.95" stroke="#777" stroke-width="0.8"/>
<line x1="397.93" y1="236.18" x2="400.53" y2="236.18" stroke="#777" stroke-width="0.8"/>
<line x1="448.88" y1="268.31" x2="448.88" y2="239.75" stroke="#777" stroke-width="0.8"/>
<line x1="447.58" y1="268.31" x2="450.18" y2="268.31" stroke="#777" stroke-width="0.8"/>
<line x1="447.58" y1="239.75" x2="450.18" y2="239.75" stroke="#777" stroke-width="0.8"/>
<line x1="508.46" y1="273.67" x2="508.46" y2="252.25" stroke="#777" stroke-width="0.8"/>
<line x1="507.16" y1="273.67" x2="509.76" y2="273.67" stroke="#777" stroke-width="0.8"/>
<line x1="507.16" y1="252.25" x2="509.76" y2="252.25" stroke="#777" stroke-width="0.8"/>
<path d="M389.3,204.76 L399.23,217.79 L448.88,226.36 L508.46,226.36" fill="none" stroke="#555" stroke-width="0.9"/>
<path d="M389.3,226.9 L399.23,223.15 L448.88,234.93 L508.46,257.06" fill="none" stroke="#555" stroke-width="0.9"/>
<path d="M389.3,249.57 L399.23,249.57 L448.88,252.6 L508.46,261.88" fill="none" stroke="#555" stroke-width="0.9"/>
<circle cx="389.3" cy="204.76" r="1.65" fill="#fff" stroke="#000" stroke-width="0.8"/>
<circle cx="399.23" cy="217.79" r="1.65" fill="#fff" stroke="#000" stroke-width="0.8"/>
<circle cx="448.88" cy="226.36" r="1.65" fill="#fff" stroke="#000" stroke-width="0.8"/>
<circle cx="508.46" cy="226.36" r="1.65" fill="#fff" stroke="#000" stroke-width="0.8"/>
<path d="M387.1,225.4H391.5L389.3,229.1Z" fill="#000"/>
<path d="M397.03,221.65H401.43L399.23,225.35Z" fill="#000"/>
<path d="M446.68,233.43H451.08L448.88,237.13Z" fill="#000"/>
<path d="M506.26,255.56H510.66L508.46,259.26Z" fill="#000"/>
<circle cx="389.3" cy="249.57" r="2.1" fill="#000"/>
<circle cx="399.23" cy="249.57" r="2.1" fill="#000"/>
<circle cx="448.88" cy="252.6" r="2.1" fill="#000"/>
<circle cx="508.46" cy="261.88" r="2.1" fill="#000"/>
<line x1="383.1" y1="120.6" x2="385.1" y2="120.6" stroke="#333" stroke-width="0.8"/>
<text x="381.1" y="122.7" font-size="4.8" text-anchor="end">10<tspan font-size="3.4" dx="0.3" dy="-1.7">1</tspan></text>
<line x1="383.1" y1="104.6" x2="385.1" y2="104.6" stroke="#333" stroke-width="0.8"/>
<text x="381.1" y="106.7" font-size="4.8" text-anchor="end">10<tspan font-size="3.4" dx="0.3" dy="-1.7">2</tspan></text>
<line x1="383.1" y1="88.6" x2="385.1" y2="88.6" stroke="#333" stroke-width="0.8"/>
<text x="381.1" y="90.7" font-size="4.8" text-anchor="end">10<tspan font-size="3.4" dx="0.3" dy="-1.7">3</tspan></text>
<line x1="383.1" y1="72.6" x2="385.1" y2="72.6" stroke="#333" stroke-width="0.8"/>
<text x="381.1" y="74.7" font-size="4.8" text-anchor="end">10<tspan font-size="3.4" dx="0.3" dy="-1.7">4</tspan></text>
<line x1="383.1" y1="56.6" x2="385.1" y2="56.6" stroke="#333" stroke-width="0.8"/>
<text x="381.1" y="58.7" font-size="4.8" text-anchor="end">10<tspan font-size="3.4" dx="0.3" dy="-1.7">5</tspan></text>
<line x1="383.1" y1="40.6" x2="385.1" y2="40.6" stroke="#333" stroke-width="0.8"/>
<text x="381.1" y="42.7" font-size="4.8" text-anchor="end">10<tspan font-size="3.4" dx="0.3" dy="-1.7">6</tspan></text>
<line x1="383.1" y1="24.6" x2="385.1" y2="24.6" stroke="#333" stroke-width="0.8"/>
<text x="381.1" y="26.7" font-size="4.8" text-anchor="end">10<tspan font-size="3.4" dx="0.3" dy="-1.7">7</tspan></text>
</svg>
</body></html>
